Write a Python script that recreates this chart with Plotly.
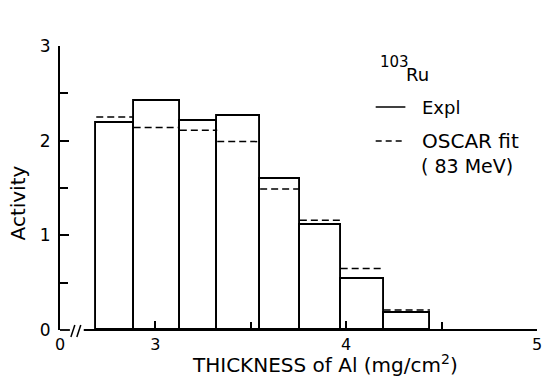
import plotly.graph_objects as go

# Bin edges of the aluminium absorber stack (mg/cm^2)
bin_edges = [2.690, 2.886, 3.128, 3.324, 3.549, 3.757, 3.971, 4.196, 4.439]
# Measured activity per bin
activity_expl = [2.19, 2.42, 2.21, 2.26, 1.60, 1.11, 0.535, 0.176]
# OSCAR calculation (83 MeV)
activity_oscar = [2.25, 2.14, 2.11, 1.99, 1.49, 1.16, 0.65, 0.21]

x_tick_vals = [2.5, 3, 4, 5]
x_tick_text = ["0", "3", "4", "5"]
y_tick_vals = [0, 1, 2, 3]

FONT = "DejaVu Sans"
X0, X1 = 2.5, 5.0
L, R, T, B = 60, 1, 46, 49
W, H = 543, 379
PW, PH = W - L - R, H - T - B


def px(xp):
    return (xp - L) / PW


def py(yp):
    return (H - B - yp) / PH


centers = [(a + b) / 2 for a, b in zip(bin_edges[:-1], bin_edges[1:])]
widths = [b - a for a, b in zip(bin_edges[:-1], bin_edges[1:])]

fig = go.Figure()

# Measured histogram as open rectangles
fig.add_trace(go.Bar(
    x=centers, y=activity_expl, width=widths,
    marker=dict(color="rgba(0,0,0,0)", line=dict(color="black", width=1.9)),
    showlegend=False, hoverinfo="skip",
))

# Calculated values as dashed bin tops
dx, dy = [], []
for a, b, v in zip(bin_edges[:-1], bin_edges[1:], activity_oscar):
    dx += [a, b, None]
    dy += [v, v, None]
fig.add_trace(go.Scatter(
    x=dx, y=dy, mode="lines",
    line=dict(color="black", width=1.5, dash="7px,4px"),
    showlegend=False, hoverinfo="skip", cliponaxis=False,
))

shapes = [
    # broken x axis line
    dict(type="line", xref="paper", yref="paper", x0=0, x1=px(70), y0=0, y1=0,
         line=dict(color="black", width=1.8)),
    dict(type="line", xref="paper", yref="paper", x0=px(84), x1=1, y0=0, y1=0,
         line=dict(color="black", width=1.8)),
    # break marks
    dict(type="line", xref="paper", yref="paper", x0=px(71), x1=px(75),
         y0=py(337), y1=py(325), line=dict(color="black", width=1.5)),
    dict(type="line", xref="paper", yref="paper", x0=px(77), x1=px(81),
         y0=py(337), y1=py(325), line=dict(color="black", width=1.5)),
    # legend keys
    dict(type="line", xref="paper", yref="paper", x0=px(379), x1=px(409),
         y0=py(107), y1=py(107), line=dict(color="black", width=1.5)),
    dict(type="line", xref="paper", yref="paper", x0=px(379), x1=px(409),
         y0=py(141), y1=py(141), line=dict(color="black", width=1.5, dash="6px,4px")),
]


def note(text, xp, yp, anchor="left", size=19, angle=0):
    return dict(text=text, x=px(xp), y=py(yp), xref="paper", yref="paper",
                xanchor=anchor, yanchor="middle", showarrow=False,
                textangle=angle, font=dict(family=FONT, size=size, color="black"))


annotations = [
    note("103", 381, 62, size=15),
    note("Ru", 408, 74, size=18),
    note("Expl", 424, 107, size=18),
    note("OSCAR fit", 424, 141, size=20),
    note("( 83 MeV)", 423, 166, size=19),
    note("THICKNESS of Al (mg/cm<sup>2</sup>)", 328, 364, anchor="center", size=20),
    note("Activity", 18, 203, anchor="center", size=20, angle=-90),
]

fig.update_layout(
    width=W, height=H,
    margin=dict(l=L, r=R, t=T, b=B),
    paper_bgcolor="white", plot_bgcolor="white",
    font=dict(family=FONT, size=18, color="black"),
    bargap=0,
    shapes=shapes,
    annotations=annotations,
    xaxis=dict(
        range=[X0, X1], showline=False, showgrid=False, zeroline=False,
        tickmode="array", tickvals=x_tick_vals, ticktext=x_tick_text,
        ticks="inside", ticklen=9, tickwidth=1.5, tickcolor="black",
        minor=dict(tickvals=[3.5, 4.5], ticks="inside", ticklen=8,
                   tickwidth=1.5, tickcolor="black"),
        tickfont=dict(family=FONT, size=16),
        ticklabelstandoff=3,
        ticklabeloverflow="allow",
    ),
    yaxis=dict(
        range=[0, 3], showline=True, linecolor="black", linewidth=1.8,
        showgrid=False, zeroline=False,
        tickmode="array", tickvals=y_tick_vals,
        ticks="inside", ticklen=9, tickwidth=1.5, tickcolor="black",
        minor=dict(tickvals=[0.5, 1.5, 2.5], ticks="inside", ticklen=8,
                   tickwidth=1.5, tickcolor="black"),
        tickfont=dict(family=FONT, size=17),
        ticklabelstandoff=4,
    ),
)

fig.write_html("out.html")
